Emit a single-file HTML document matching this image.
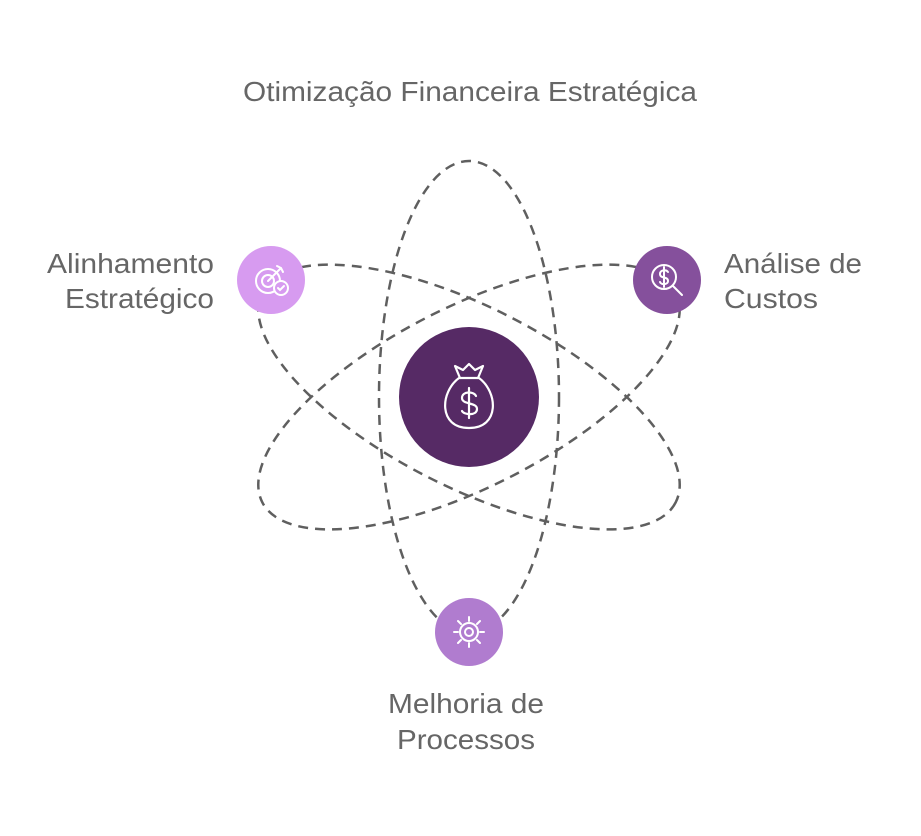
<!DOCTYPE html>
<html><head><meta charset="utf-8"><style>
body{margin:0;background:#fff;}
svg text{font-family:"Liberation Sans",sans-serif;fill:#666;font-size:28px;}
</style></head><body>
<svg width="921" height="831" viewBox="0 0 921 831" xmlns="http://www.w3.org/2000/svg">
<g fill="none" stroke="#5f5f5f" stroke-width="2.5" stroke-dasharray="10 7">
<ellipse cx="469" cy="397" rx="90" ry="236"/>
<ellipse cx="469" cy="397" rx="232" ry="90" transform="rotate(27 469 397)"/>
<ellipse cx="469" cy="397" rx="232" ry="90" transform="rotate(-27 469 397)"/>
</g>
<circle cx="469" cy="397" r="70" fill="#562a65"/>
<g fill="none" stroke="#fff" stroke-width="2.2" stroke-linecap="round" stroke-linejoin="round">
<path d="M459 378 C440 392 438 428 469 428 C500 428 498 392 479 378 Z"/>
<path d="M460 378 L455 366 L463 370 L469 364 L475 370 L483 366 L478 378"/>
<path d="M476 396 C474 391 462 391 462 398 C462 405 477 402 477 409 C477 416 464 415 462 411 M469 388 L469 418"/>
</g>
<circle cx="271" cy="280" r="34" fill="#d79bf0"/>
<g fill="none" stroke="#fff" stroke-width="2" stroke-linecap="round">
<circle cx="268" cy="281" r="12"/><circle cx="268" cy="281" r="6"/>
<path d="M268 281 L281 268 M277 266 L281 268 L283 272"/>
<circle cx="281" cy="288" r="7" fill="#d79bf0"/><path d="M278 288 L280 290 L284 286"/>
</g>
<circle cx="667" cy="280" r="34" fill="#85509c"/>
<g fill="none" stroke="#fff" stroke-width="2" stroke-linecap="round">
<circle cx="664" cy="277" r="12"/><path d="M673 286 L682 295"/>
<path d="M668 272 C666 269 660 270 660 274 C660 279 668 276 668 281 C668 285 661 285 660 282 M664 267 L664 287"/>
</g>
<circle cx="469" cy="632" r="34" fill="#b07ccf"/>
<g fill="none" stroke="#fff" stroke-width="2" stroke-linecap="round">
<circle cx="469" cy="632" r="9"/><circle cx="469" cy="632" r="4"/>
<path d="M469 617 V621 M469 643 V647 M454 632 H458 M480 632 H484 M458 621 L461 624 M477 640 L480 643 M480 621 L477 624 M461 640 L458 643"/>
</g>
<text x="243" y="101" textLength="454" lengthAdjust="spacingAndGlyphs">Otimização Financeira Estratégica</text>
<text x="47" y="273" textLength="167" lengthAdjust="spacingAndGlyphs">Alinhamento</text>
<text x="65" y="308" textLength="149" lengthAdjust="spacingAndGlyphs">Estratégico</text>
<text x="724" y="273" textLength="138" lengthAdjust="spacingAndGlyphs">Análise de</text>
<text x="724" y="308" textLength="94" lengthAdjust="spacingAndGlyphs">Custos</text>
<text x="388" y="713" textLength="156" lengthAdjust="spacingAndGlyphs">Melhoria de</text>
<text x="397" y="749" textLength="138" lengthAdjust="spacingAndGlyphs">Processos</text>
</svg>
</body></html>
